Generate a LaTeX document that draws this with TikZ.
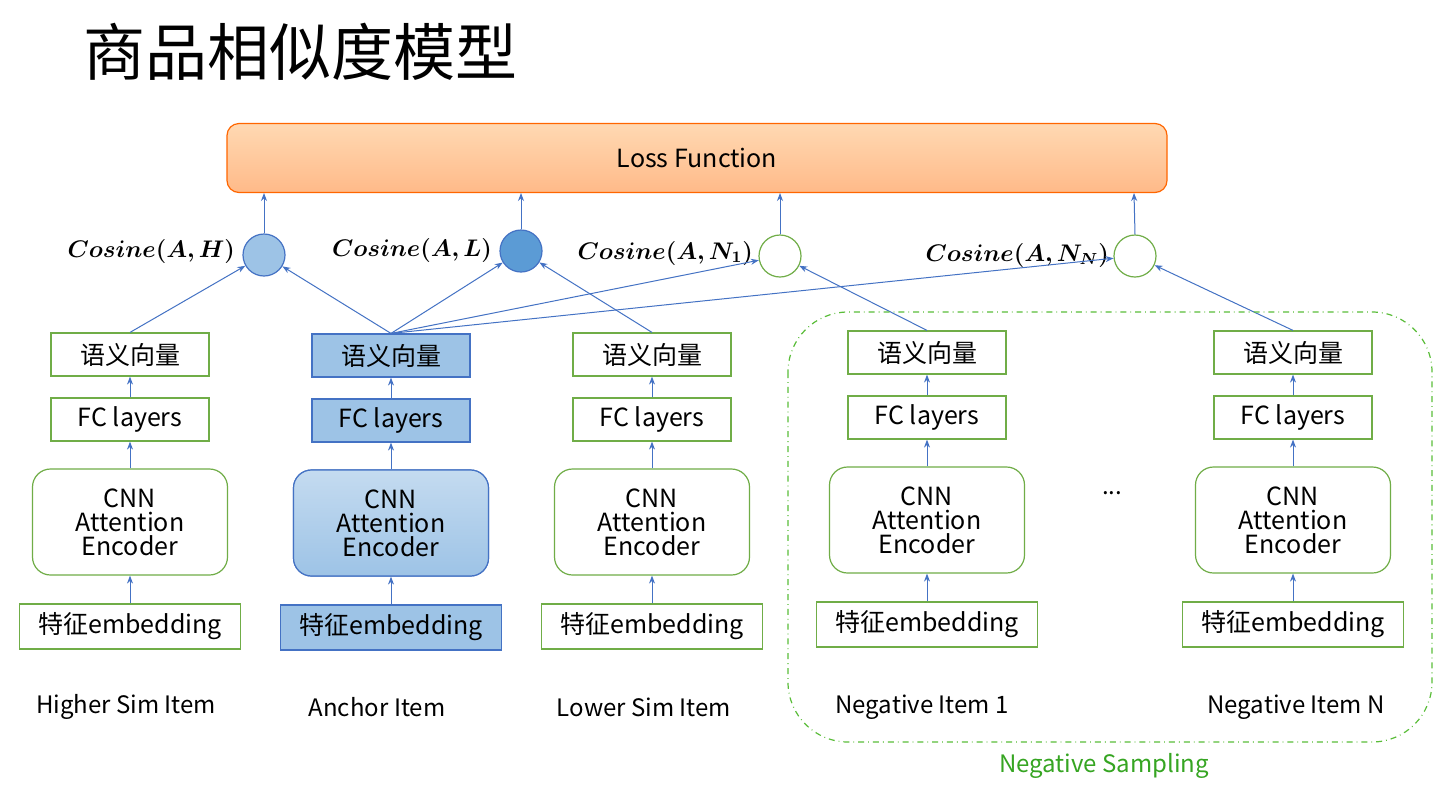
\documentclass[tikz,border=0pt]{standalone}
\usepackage{bm}
\usepackage{fontspec}
\setmainfont{Noto Sans CJK SC}
\usetikzlibrary{arrows.meta}
\definecolor{gr}{HTML}{70AD47}
\definecolor{bl}{HTML}{4472C4}
\definecolor{lb}{HTML}{9DC3E6}
\definecolor{mb}{HTML}{5B9BD5}
\begin{document}
\begin{tikzpicture}[x=0.5pt,y=-0.5pt,
 txt/.style={font=\fontsize{12.5}{14}\selectfont},
 gbox/.style={draw=gr,line width=0.6pt,fill=white,txt,inner sep=0pt},
 abox/.style={draw=bl,line width=0.6pt,fill=lb,txt,inner sep=0pt},
 cnnbox/.style={rounded corners=9pt,align=center,minimum width=97.5pt,minimum height=53pt},
 svbox/.style={minimum width=79pt,minimum height=21.5pt},
 embbox/.style={minimum width=110.5pt,minimum height=22.5pt},
 circ/.style={circle,minimum size=21pt,inner sep=0pt,line width=0.6pt},
 arr/.style={-{Stealth[length=4pt,width=3pt]},draw=bl,line width=0.5pt},
 lab/.style={font=\fontsize{12}{14}\selectfont},
 costxt/.style={anchor=east,font=\fontsize{12}{14}\selectfont}]
\useasboundingbox (0,0) rectangle (1440,799);
\fill[white] (0,0) rectangle (1440,799);
\node[anchor=west,font=\fontsize{31}{34}\selectfont] (title) at (76,52) {商品相似度模型};
\node[rounded corners=6pt,draw=orange!80!red,line width=0.6pt,top color=orange!30!white,bottom color=orange!55!pink!70!white,minimum width=470pt,minimum height=34.5pt,txt] (loss) at (697,158) {Loss Function};
\node[circ,draw=bl,fill=lb] (cH) at (264,255) {};
\node[circ,draw=bl,fill=mb] (cL) at (521,251) {};
\node[circ,draw=gr,fill=white] (cN1) at (780,256) {};
\node[circ,draw=gr,fill=white] (cNN) at (1135,256) {};
\node[costxt] (tH) at (242,251) {$\bm{Cosine(A,H)}$};
\node[costxt] (tL) at (499,250) {$\bm{Cosine(A,L)}$};
\node[costxt] (tN1) at (760,253) {$\bm{Cosine(A,N_1)}$};
\node[costxt] (tNN) at (1116,255) {$\bm{Cosine(A,N_N)}$};
\foreach \c/\x in {cH/264,cL/521,cN1/780,cNN/1134}{\draw[arr] (\c.north) -- (\x,193);}
\foreach \n/\x/\dy/\s in {a/130/0/gbox,b/391/1/abox,c/652/0/gbox,d/927/-2/gbox,e/1293/-2/gbox}{
 \node[\s,svbox] (sv\n) at (\x,354.5+\dy) {语义向量};
 \node[\s,svbox] (fc\n) at (\x,419.5+\dy) {FC layers};
 \node[\s,cnnbox] (cn\n) at (\x,522+\dy) {CNN\\[-2pt]Attention\\[-2pt]Encoder};
 \node[\s,embbox] (em\n) at (\x,626.5+\dy) {特征embedding};
 \draw[arr] (em\n) -- (cn\n);
 \draw[arr] (cn\n) -- (fc\n);
 \draw[arr] (fc\n) -- (sv\n);
}
\node[abox,cnnbox,top color=lb!60!white,bottom color=lb] at (cnb) {CNN\\[-2pt]Attention\\[-2pt]Encoder};
\foreach \n/\x/\t in {a/126/Higher Sim Item,b/377/Anchor Item,c/644/Lower Sim Item,d/922/Negative Item 1,e/1296/Negative Item N}{
 \node[lab] (l\n) at (\x,707) {\t};}
\node[lab] (dots) at (1112,493) {...};
\draw[arr] (sva.north) -- (cH);
\draw[arr] (svb.north) -- (cH);
\draw[arr] (svb.north) -- (cL);
\draw[arr] (svb.north) -- (cN1);
\draw[arr] (svb.north) -- (cNN);
\draw[arr] (svc.north) -- (cL);
\draw[arr] (svd.north) -- (cN1);
\draw[arr] (sve.north) -- (cNN);
\draw[gr!80!green,dash dot,line width=0.6pt,rounded corners=30pt] (788,312) rectangle (1432,742);
\node[lab,text=gr!60!green!80!black] (ns) at (1104,766) {Negative Sampling};
\end{tikzpicture}
\end{document}
